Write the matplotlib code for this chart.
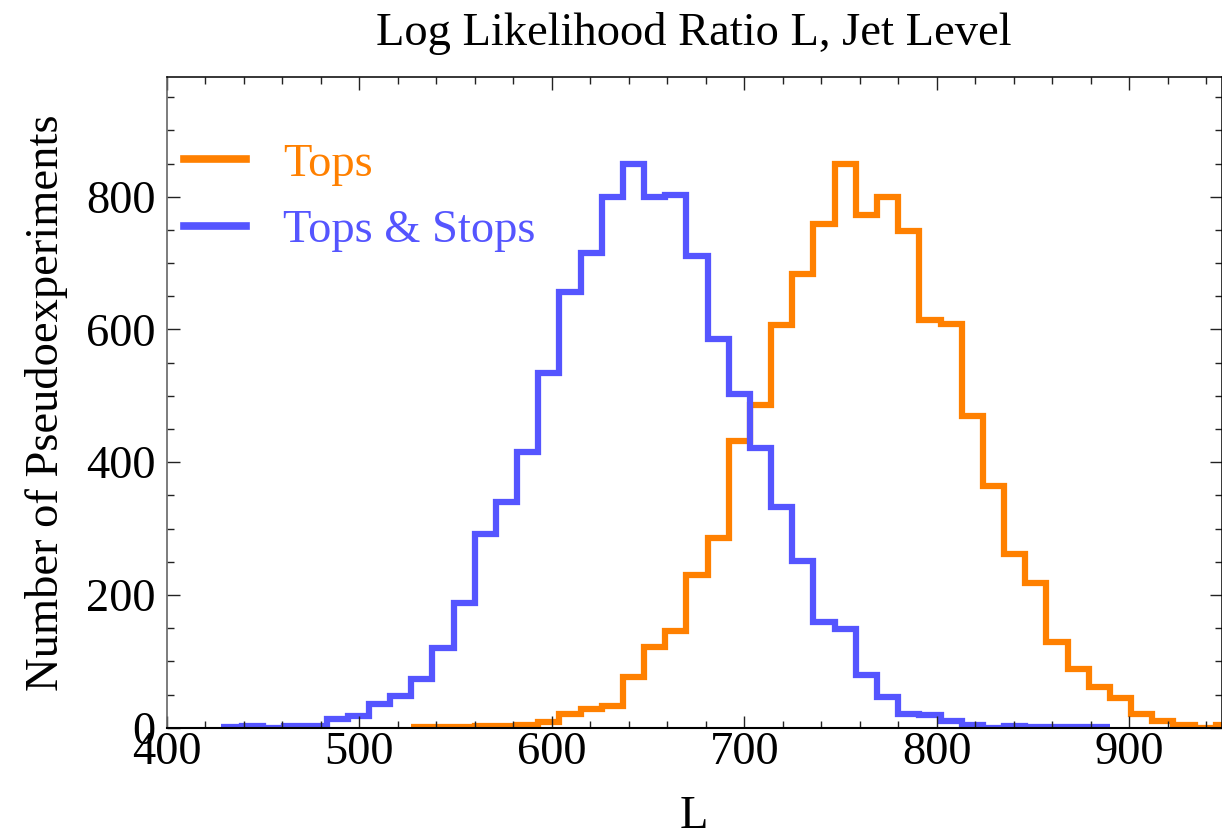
import numpy as np
import matplotlib.pyplot as plt
from matplotlib.ticker import MultipleLocator

plt.rcParams['font.family'] = ['Liberation Serif', 'DejaVu Serif']
plt.rcParams['mathtext.fontset'] = 'stix'

# common binning: 11-wide bins starting at L = 428
BIN_START = 428
BIN_WIDTH = 11

# Tops only, bins 9..47
tops_first_bin = 9
tops_counts = [1, 1, 1, 2, 3, 4, 9, 20, 28, 33,
               77, 122, 145, 230, 286, 432, 486, 606, 684, 759,
               850, 772, 799, 748, 615, 609, 469, 364, 262, 218,
               129, 89, 62, 45, 21, 10, 4, 0, 4]

# Tops & Stops, bins 0..41
stops_first_bin = 0
stops_counts = [1, 3, 0, 3, 3, 13, 18, 36, 48, 74,
                120, 188, 292, 340, 415, 534, 656, 715, 800, 850,
                799, 802, 711, 586, 503, 421, 333, 251, 160, 148,
                79, 46, 20, 19, 10, 4, 0, 3, 1, 1,
                1, 1]

labels = ['Tops', 'Tops & Stops']
colors = ['#ff8000', '#5555ff']

FS = 33.5


def edges_for(first_bin, counts):
    k = np.arange(first_bin, first_bin + len(counts) + 1)
    return BIN_START + BIN_WIDTH * k


fig = plt.figure(figsize=(12.22, 8.4), dpi=100)
ax = fig.add_axes([0.1365, 0.1337, 0.8631, 0.7743])

ax.stairs(tops_counts, edges_for(tops_first_bin, tops_counts),
          color=colors[0], linewidth=4.5, label=labels[0], baseline=None)
ax.stairs(stops_counts, edges_for(stops_first_bin, stops_counts),
          color=colors[1], linewidth=4.5, label=labels[1], baseline=None)

ax.set_xlim(400, 948)
ax.set_ylim(0, 980)

ax.xaxis.set_major_locator(MultipleLocator(100))
ax.xaxis.set_minor_locator(MultipleLocator(20))
ax.yaxis.set_major_locator(MultipleLocator(200))
ax.yaxis.set_minor_locator(MultipleLocator(50))

ax.tick_params(which='both', direction='in', top=True, right=True,
               labelsize=FS, width=1.0, colors='#222222', labelcolor='black')
ax.tick_params(which='major', length=9)
ax.tick_params(which='minor', length=5)
ax.tick_params(axis='x', pad=3)
ax.tick_params(axis='y', pad=8)

for side in ['top', 'right']:
    ax.spines[side].set_color('black')
    ax.spines[side].set_linewidth(1.1)
ax.spines['left'].set_color('#666666')
ax.spines['left'].set_linewidth(1.2)
ax.spines['bottom'].set_color('black')
ax.spines['bottom'].set_linewidth(1.5)

ax.set_title('Log Likelihood Ratio L, Jet Level', fontsize=FS, pad=23)
ax.set_xlabel('L', fontsize=FS, labelpad=15)
ax.set_ylabel('Number of Pseudoexperiments', fontsize=FS)
ax.yaxis.set_label_coords(-0.094, 0.5)

leg = ax.legend(loc='upper left', bbox_to_anchor=(0.016, 0.899),
                frameon=False, fontsize=FS, handlelength=1.35,
                handletextpad=0.78, labelspacing=0.51, borderpad=0,
                borderaxespad=0, labelcolor='linecolor')
for h in leg.get_lines():
    h.set_linewidth(5.5)

fig.savefig('out.png', dpi=100)
